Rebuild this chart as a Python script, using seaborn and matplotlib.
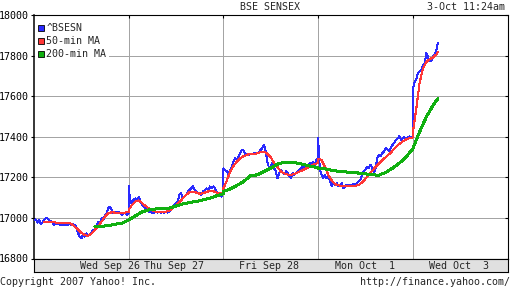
import numpy as np
import pandas as pd
import matplotlib
matplotlib.use("Agg")
import matplotlib.pyplot as plt
import seaborn as sns
from matplotlib.lines import Line2D

# ---------------- data ----------------
day_labels = ["Wed Sep 26", "Thu Sep 27", "Fri Sep 28", "Mon Oct  1", "Wed Oct  3"]
label_pos = [0.80, 1.48, 2.485, 3.49, 4.49]
yticks = [16800, 17000, 17200, 17400, 17600, 17800, 18000]

SESSION_MIN = 336      # trading minutes per day
LAST_MIN = 89          # 3-Oct 11:24am
BLUE_STEP, RED_STEP, GREEN_STEP = 6, 12, 24

bsesn_sep26 = [16990, 16993, 16977, 16990, 16970, 16977, 16990, 16998, 16998, 16990,
               16982, 16977, 16965, 16974, 16970, 16969, 16965, 16969, 16965, 16969,
               16965, 16969, 16965, 16969, 16965, 16957, 16927, 16908, 16900, 16916,
               16908, 16924, 16916, 16919, 16927, 16941, 16944, 16957, 16982, 16974,
               16998, 16990, 17015, 17023, 17048, 17056, 17040, 17023, 17031, 17023,
               17031, 17023, 17015, 17026, 17023, 17015, 17023, 17031][:57]
bsesn_sep27 = [17160, 17072, 17081, 17089, 17097, 17089, 17105, 17081, 17064, 17056,
               17048, 17040, 17031, 17035, 17023, 17026, 17030, 17026, 17030, 17026,
               17030, 17026, 17030, 17026, 17030, 17040, 17056, 17064, 17072, 17081,
               17114, 17122, 17097, 17105, 17114, 17130, 17138, 17146, 17155, 17138,
               17130, 17122, 17122, 17114, 17130, 17138, 17146, 17138, 17155, 17146,
               17155, 17146, 17130, 17122, 17114, 17105, 17130]
bsesn_sep28 = [17245, 17237, 17229, 17212, 17237, 17253, 17278, 17295, 17286, 17303,
               17319, 17336, 17331, 17311, 17315, 17311, 17315, 17316, 17318, 17319,
               17319, 17324, 17336, 17344, 17360, 17327, 17278, 17245, 17253, 17270,
               17245, 17229, 17196, 17221, 17237, 17221, 17216, 17229, 17221, 17204,
               17196, 17221, 17212, 17221, 17229, 17237, 17245, 17253, 17245, 17262,
               17253, 17270, 17262, 17278, 17262, 17286, 17295]
bsesn_oct01 = [17393, 17245, 17212, 17196, 17212, 17196, 17204, 17188, 17155, 17171,
               17163, 17171, 17155, 17163, 17171, 17146, 17155, 17163, 17163, 17163,
               17163, 17166, 17166, 17171, 17179, 17188, 17212, 17229, 17237, 17253,
               17245, 17262, 17245, 17221, 17245, 17295, 17311, 17303, 17319, 17328,
               17344, 17336, 17328, 17344, 17360, 17369, 17385, 17393, 17402, 17385,
               17393, 17397, 17385, 17397, 17402, 17397, 17402]
bsesn_oct03 = [17632, 17668, 17683, 17712, 17721, 17726, 17750, 17760, 17812, 17792,
               17773, 17774, 17795, 17808, 17830, 17863]

ma50_sep26 = [np.nan, np.nan, np.nan, 16982, 16982, 16980, 16979, 16974, 16974, 16974,
              16974, 16972, 16957, 16944, 16927, 16916, 16911, 16924, 16941, 16960,
              16982, 17007, 17023, 17028, 17026, 17023, 17023, 17026, 17031]
ma50_sep27 = [17040, 17064, 17081, 17086, 17072, 17059, 17046, 17036, 17031, 17030,
              17030, 17030, 17036, 17048, 17061, 17077, 17097, 17114, 17127, 17128,
              17125, 17119, 17122, 17128, 17133, 17132, 17125, 17122, 17119]
ma50_sep28 = [17146, 17183, 17229, 17257, 17278, 17295, 17305, 17311, 17316, 17316,
              17318, 17324, 17327, 17316, 17298, 17270, 17250, 17229, 17219, 17214,
              17212, 17217, 17224, 17232, 17240, 17248, 17257, 17265, 17270]
ma50_oct01 = [17291, 17286, 17253, 17212, 17186, 17166, 17161, 17158, 17156, 17156,
              17156, 17158, 17163, 17174, 17193, 17212, 17232, 17252, 17268, 17285,
              17300, 17314, 17331, 17349, 17364, 17377, 17387, 17393, 17397]
ma50_oct03 = [17420, 17535, 17665, 17737, 17769, 17782, 17791, 17806, 17817]

ma200_sep26 = [np.nan] * 9 + [16957, 16959, 16962, 16969, 16974, 16990]
ma200_sep27 = [16990, 17010, 17030, 17040, 17044, 17044, 17048, 17059, 17069, 17076,
               17081, 17089, 17097, 17109, 17119]
ma200_sep28 = [17130, 17143, 17160, 17179, 17209, 17212, 17229, 17245, 17265, 17275,
               17273, 17270, 17262, 17253, 17248]
ma200_oct01 = [17245, 17242, 17235, 17230, 17227, 17224, 17221, 17217, 17212, 17211,
               17224, 17245, 17270, 17300, 17341]
ma200_oct03 = [17341, 17424, 17498, 17555, 17588]

series_days = {
    "^BSESN": ([bsesn_sep26, bsesn_sep27, bsesn_sep28, bsesn_oct01, bsesn_oct03], BLUE_STEP),
    "50-min MA": ([ma50_sep26, ma50_sep27, ma50_sep28, ma50_oct01, ma50_oct03], RED_STEP),
    "200-min MA": ([ma200_sep26, ma200_sep27, ma200_sep28, ma200_oct01, ma200_oct03], GREEN_STEP),
}

rows = []
for name, (days, step) in series_days.items():
    for d, vals in enumerate(days):
        mins = np.arange(len(vals)) * step
        if d == len(days) - 1:
            mins = np.minimum(mins, LAST_MIN)
        for m, v in zip(mins, vals):
            rows.append((name, d + m / SESSION_MIN, v))
df = pd.DataFrame(rows, columns=["series", "t", "value"]).dropna()

colors = {"^BSESN": "#2a2aff", "50-min MA": "#ff3636", "200-min MA": "#10b010"}
widths = {"^BSESN": 0.7, "50-min MA": 0.75, "200-min MA": 1.45}
zord = {"^BSESN": 3, "50-min MA": 4, "200-min MA": 5}

# ---------------- figure ----------------
sns.set_style("white")
MONO = "DejaVu Sans Mono"
FS = 7.2
plt.rcParams["font.family"] = [MONO]

W, H = 512, 288
fig = plt.figure(figsize=(W / 100, H / 100), dpi=100)
L, R, T, B = 34, 507.5, 15, 258.5
ax = fig.add_axes([L / W, 1 - B / H, (R - L) / W, (B - T) / H])

for name in series_days:
    sub = df[df.series == name]
    sns.lineplot(data=sub, x="t", y="value", ax=ax, color=colors[name],
                 lw=widths[name], estimator=None, sort=False, legend=False,
                 zorder=zord[name], antialiased=False)

ax.set_xlim(0, 5)
ax.set_ylim(16800, 18000)
ax.set_xticks([1, 2, 3, 4])
ax.set_yticks(yticks)
ax.set_yticklabels([str(v) for v in yticks], fontsize=FS, family=MONO)
ax.set_xlabel("")
ax.set_ylabel("")
ax.grid(True, color="#a4a4a4", lw=0.7, antialiased=False)
ax.set_axisbelow(True)
ax.tick_params(axis="x", bottom=False, top=True, direction="in", length=2.5,
               width=0.8, labelbottom=False, color="black")
ax.tick_params(axis="y", left=True, right=False, direction="out", length=2.5,
               width=0.8, pad=1, color="black", labelcolor="black")
for s in ax.spines.values():
    s.set_visible(True)
    s.set_color("black")
    s.set_linewidth(0.8)
ax.spines["left"].set_linewidth(1.1)

ax2 = ax.twinx()
ax2.set_ylim(16800, 18000)
ax2.set_yticks(yticks)
ax2.tick_params(axis="y", direction="in", length=2.5, width=0.8, labelright=False,
                color="black")
for s in ax2.spines.values():
    s.set_visible(False)

# legend
handles = [Line2D([], [], ls="none", marker="s", markersize=5, markerfacecolor=colors[n],
                  markeredgecolor="black", markeredgewidth=0.6) for n in series_days]
leg = ax2.legend(handles, list(series_days), loc="upper left",
                 bbox_to_anchor=(1 / (R - L), 1 - 6 / (B - T)), borderaxespad=0,
                 frameon=True, facecolor="white", edgecolor="none", framealpha=1,
                 fancybox=False, borderpad=0.2, handlelength=0.7, handletextpad=0.25,
                 labelspacing=0.32, prop={"family": MONO, "size": FS})
leg.set_zorder(10)

# date band
band = fig.add_axes([L / W, 1 - 272 / H, (R - L) / W, (272 - B) / H])
band.set_facecolor("#e0e0e0")
band.set_xlim(0, 5)
band.set_ylim(0, 1)
band.set_xticks([])
band.set_yticks([])
for s in band.spines.values():
    s.set_visible(True)
    s.set_color("black")
    s.set_linewidth(0.8)
for lab, pos in zip(day_labels, label_pos):
    band.text(pos, 0.45, lab, ha="center", va="center", fontsize=FS, family=MONO)

# titles & footer
fig.text(270.5 / W, 1 - 7 / H, "BSE SENSEX", ha="center", va="center", fontsize=FS, family=MONO)
fig.text(505 / W, 1 - 6.5 / H, "3-Oct 11:24am", ha="right", va="center", fontsize=FS, family=MONO)
fig.text(0 / W, 1 - 282 / H, "Copyright 2007 Yahoo! Inc.", ha="left", va="center", fontsize=FS, family=MONO)
fig.text(510 / W, 1 - 282 / H, "http://finance.yahoo.com/", ha="right", va="center", fontsize=FS, family=MONO)

fig.savefig("out.png", dpi=100, facecolor="white")
